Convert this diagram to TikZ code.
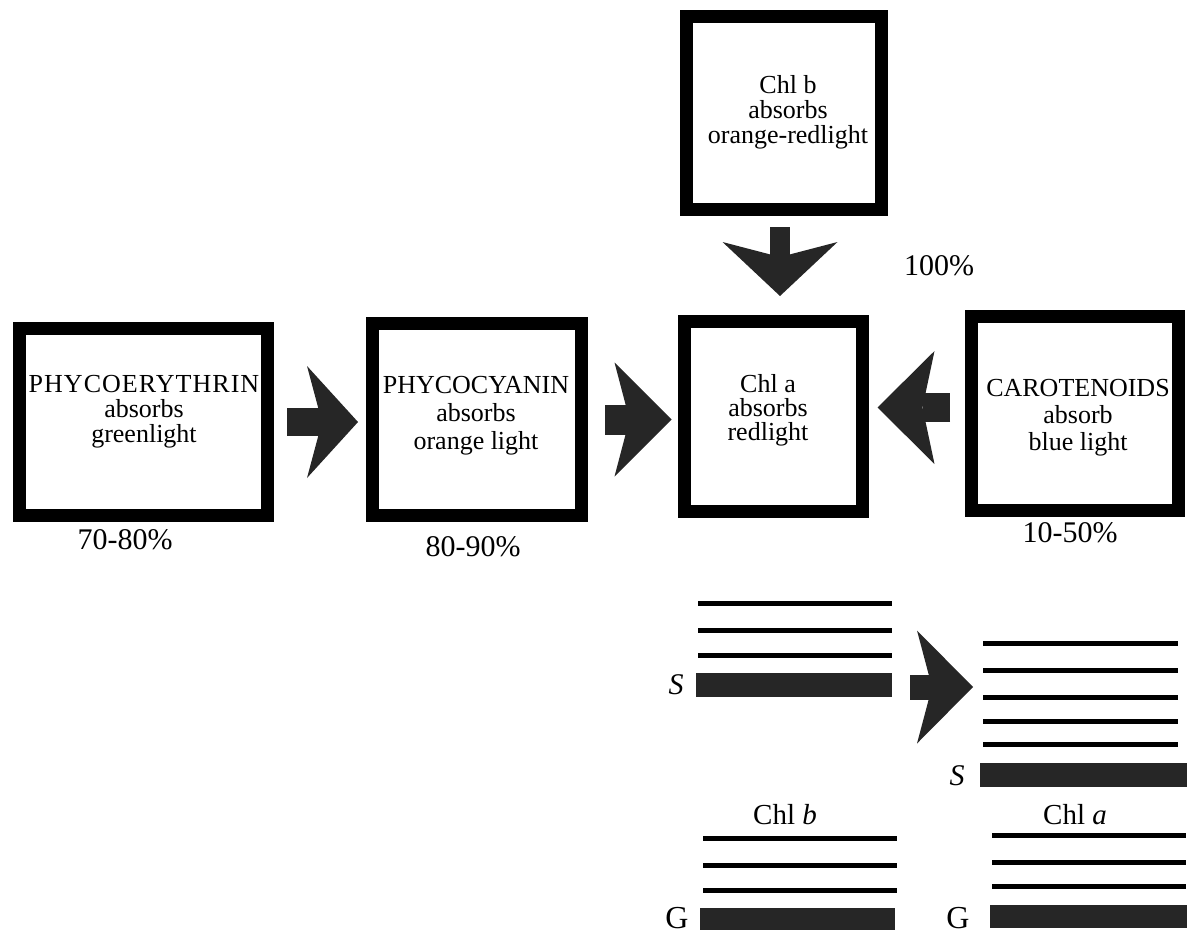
\documentclass[tikz,border=0pt]{standalone}
\usepackage{fontspec}
\setmainfont{Liberation Serif}
\usetikzlibrary{arrows.meta}
\begin{document}
\begin{tikzpicture}[x=1pt,y=-1pt,
  box/.style={draw=black, fill=white, line width=13pt, inner sep=0pt},
  boxtext/.style={align=center, inner sep=0pt, font=\fontsize{26}{#1}\selectfont},
  pct/.style={inner sep=0pt, font=\fontsize{30}{30}\selectfont},
  lab/.style={inner sep=0pt, font=\fontsize{30}{30}\selectfont},
  glab/.style={inner sep=0pt, font=\fontsize{32}{32}\selectfont},
  chl/.style={inner sep=0pt, font=\fontsize{29}{29}\selectfont},
  lvl/.style={line width=5pt, draw=black},
  band/.style={fill=black!85},
  fat/.style n args={4}{draw=black!85, line width=#1,
    -{Stealth[length=#2, width=#3, inset=#4, line width=0pt]}}
]
\fill[white] (0,0) rectangle (1191,935);
\useasboundingbox (0,0) rectangle (1191,935);

% boxes
\node[box, minimum width=195pt, minimum height=193pt] (cb) at (784,113) {};
\node[box, minimum width=248pt, minimum height=187pt] (pe) at (143.5,422) {};
\node[box, minimum width=209pt, minimum height=192pt] (pc) at (477,419.5) {};
\node[box, minimum width=178pt, minimum height=190pt] (ca) at (773,416.5) {};
\node[box, minimum width=207pt, minimum height=194pt] (car) at (1075,413.5) {};

% box texts
\node[boxtext=25] (cbt) at (788,112.5) {Chl b\\absorbs\\orange-redlight};
\node[boxtext=25] (pet) at (144,412) {{\addfontfeatures{LetterSpace=4}PHYCOERYTHRIN}\\absorbs\\greenlight};
\node[boxtext=28] (pct1) at (476,415.5) {PHYCOCYANIN\\absorbs\\orange light};
\node[boxtext=24] (cat) at (768,410.5) {Chl a\\absorbs\\redlight};
\node[boxtext=27] (cart) at (1078,418) {CAROTENOIDS\\absorb\\blue light};

% percentages
\node[pct] (p100) at (939,266) {100\%};
\node[pct] (p7080) at (125,540) {70-80\%};
\node[pct] (p8090) at (473,547) {80-90\%};
\node[pct] (p1050) at (1070,533) {10-50\%};

% fat arrows
\draw[fat={28pt}{51pt}{112pt}{15pt}, shorten <=13pt, shorten >=8pt]
  (pe.east) -- (pc.west |- pe.east);
\draw[fat={30pt}{57pt}{114pt}{15pt}, shorten <=17pt, shorten >=6pt]
  (pc.east) -- (ca.west |- pc.east);
\coordinate (a3s) at ([yshift=6pt]car.west);
\draw[fat={29pt}{57pt}{113pt}{12pt}, shorten <=15pt, shorten >=9pt]
  (a3s) -- (a3s -| ca.east);
\coordinate (a4s) at ([xshift=-4pt]cb.south);
\draw[fat={20pt}{54pt}{115pt}{15pt}, shorten <=11pt, shorten >=19pt]
  (a4s) -- (a4s |- ca.north);

% energy levels: Chl b excited
\foreach \yy in {603,630,655} \draw[lvl] (698,\yy) -- (892,\yy);
\fill[band] (696,673) rectangle (892,697);
\node[lab] (s1) at (676,685) {\itshape S};
\coordinate (lvlL) at (892,687);

% energy levels: Chl a excited
\foreach \yy in {643,670,697,721,744} \draw[lvl] (983,\yy) -- (1178,\yy);
\fill[band] (980,763) rectangle (1187,787);
\node[lab] (s2) at (957,776) {\itshape S};
\coordinate (lvlR) at (983,687);

\draw[fat={25pt}{56pt}{113pt}{15pt}, shorten <=18pt, shorten >=10pt]
  (lvlL) -- (lvlR);

% ground states
\node[chl] (chlb) at (785,815) {Chl \textit{b}};
\foreach \yy in {838,865,890} \draw[lvl] (703,\yy) -- (897,\yy);
\fill[band] (700,908) rectangle (895,930);
\node[glab] (g1) at (677,918) {G};

\node[chl] (chla) at (1075,815) {Chl \textit{a}};
\foreach \yy in {835,862,886} \draw[lvl] (992,\yy) -- (1186,\yy);
\fill[band] (990,905) rectangle (1187,928);
\node[glab] (g2) at (958,918) {G};
\end{tikzpicture}
\end{document}
